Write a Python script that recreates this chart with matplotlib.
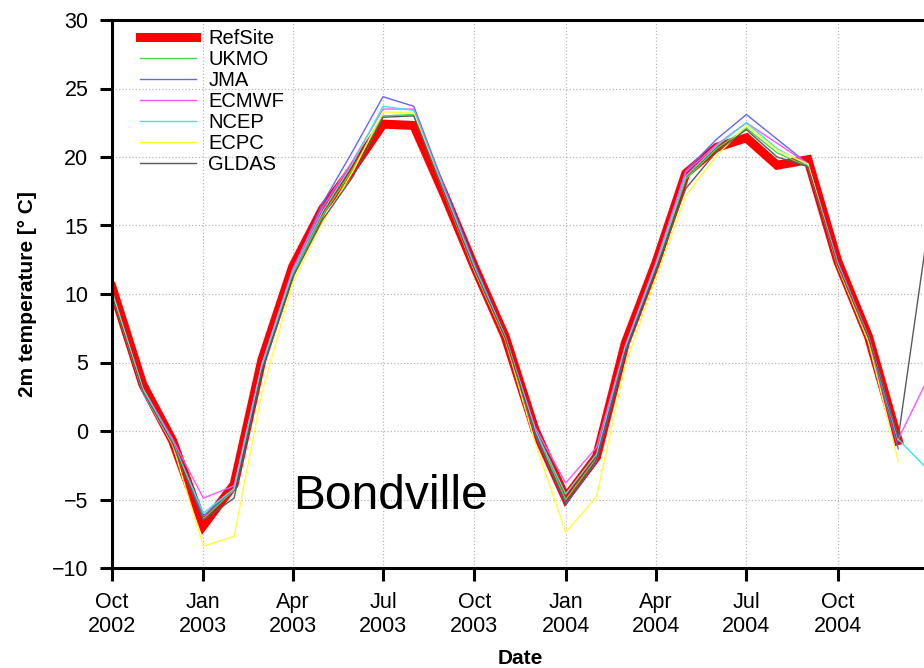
import matplotlib
matplotlib.use("Agg")
import matplotlib.pyplot as plt
import matplotlib.dates as mdates
import pandas as pd

plt.rcParams['font.family'] = ['Liberation Sans', 'DejaVu Sans']

# monthly values, first of month, Oct 2002 .. Jan 2005
months = pd.date_range('2002-10-01', '2005-01-01', freq='MS')
tick_dates = pd.date_range('2002-10-01', '2004-10-01', freq='3MS')

refsite = [10.5, 3.4, -0.7, -6.9, -3.9, 5.2, 12.0, 16.2, 19.2, 22.4, 22.3, 17.2, 12.0, 6.9,
           0.1, -4.9, -1.9, 6.4, 12.3, 18.8, 20.7, 21.4, 19.4, 19.8, 12.4, 6.9, -0.7]
ukmo = [10.0, 3.0, -0.9, -6.4, -4.3, 4.7, 11.4, 15.7, 19.2, 23.0, 23.1, 17.4, 11.9, 6.8,
        0.0, -5.0, -2.0, 5.9, 12.0, 18.4, 20.6, 22.1, 20.3, 19.3, 12.2, 6.8, -0.7]
jma = [10.0, 2.8, -1.0, -6.2, -4.2, 4.8, 11.7, 16.6, 20.5, 24.4, 23.7, 17.8, 12.2, 6.9,
       -0.2, -5.3, -2.2, 5.8, 12.2, 19.0, 21.3, 23.1, 21.3, 19.5, 12.3, 6.7, -1.3]
ecmwf = [10.1, 3.1, -0.6, -4.9, -4.0, 4.9, 11.8, 16.3, 19.8, 23.5, 23.5, 17.6, 12.0, 6.9,
         0.3, -3.8, -1.2, 6.2, 12.3, 18.9, 20.9, 22.5, 21.0, 19.5, 12.3, 6.9, -0.6, 4.0]
ncep = [10.2, 3.1, -0.8, -6.0, -4.2, 4.8, 11.6, 16.0, 19.6, 23.7, 23.4, 17.5, 12.0, 6.9,
        0.1, -4.6, -1.7, 6.1, 12.1, 18.6, 20.8, 22.5, 20.6, 19.4, 12.2, 6.8, -0.6, -2.9]
ecpc = [10.0, 2.9, -1.0, -8.4, -7.7, 2.8, 10.8, 15.2, 19.0, 23.3, 23.2, 17.3, 11.7, 6.7,
        -0.8, -7.4, -4.8, 4.8, 11.2, 17.2, 20.1, 22.3, 20.5, 19.5, 12.0, 6.5, -2.2]
gldas = [9.9, 2.9, -0.9, -6.5, -4.9, 4.4, 11.2, 15.4, 18.6, 22.9, 23.0, 17.3, 11.8, 6.8,
         -0.1, -5.4, -2.1, 5.8, 11.8, 17.7, 20.4, 22.0, 20.0, 19.3, 12.1, 6.8, -0.5, 15.3]

models = [('UKMO', ukmo, '#44dd44'),
          ('JMA', jma, '#6464ff'),
          ('ECMWF', ecmwf, '#ff55ff'),
          ('NCEP', ncep, '#33e8e8'),
          ('ECPC', ecpc, '#ffff33'),
          ('GLDAS', gldas, '#5a5a5a')]

fig = plt.figure(figsize=(9.24, 6.68), dpi=100)
# axes runs a little past the right edge of the picture, as in the original crop
ax = fig.add_axes([112/924, 100/668, 817/924, 548/668])

ax.plot(months[:len(refsite)], refsite, color='red', lw=6.5, label='RefSite',
        solid_joinstyle='miter')
for name, vals, col in models:
    ax.plot(months[:len(vals)], vals, color=col, lw=1.0, label=name)

ax.set_xlim(pd.Timestamp('2002-10-01'), pd.Timestamp('2005-01-01'))
ax.set_ylim(-10, 30)
ax.set_yticks(range(-10, 31, 5))
ax.set_xticks(tick_dates)
ax.xaxis.set_major_formatter(mdates.DateFormatter('%b\n%Y'))

ax.grid(True, color='#b8b8b8', linestyle=':', linewidth=0.9)
for s in ax.spines.values():
    s.set_linewidth(2.2)
ax.tick_params(axis='both', direction='out', length=9, width=2.2, labelsize=15.5, pad=8)

ax.set_xlabel('Date', fontsize=15, fontweight='bold', labelpad=9)
ax.set_ylabel('2m temperature [° C]', fontsize=15, fontweight='bold', labelpad=11)

ax.text(0.2215, 0.13, 'Bondville', transform=ax.transAxes, fontsize=34.5,
        ha='left', va='center')

ax.legend(loc='upper left', bbox_to_anchor=(0.012, 1.016), frameon=False, fontsize=14.5,
          handlelength=2.8, handletextpad=0.6, labelspacing=0.1)

fig.savefig('out.png', dpi=100)
